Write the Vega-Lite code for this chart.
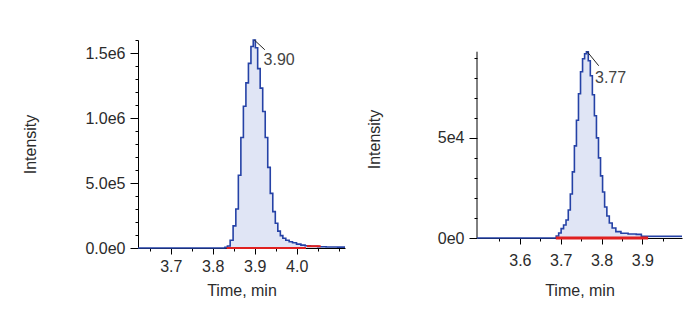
{
  "$schema": "https://vega.github.io/schema/vega-lite/v6.json",
  "padding": {"left": 22, "top": 32, "right": 5, "bottom": 5},
  "spacing": 17,
  "background": "white",
  "config": {
    "view": {"stroke": null},
    "font": "Liberation Sans",
    "axis": {
      "grid": false,
      "domainColor": "#000000",
      "tickColor": "#000000",
      "labelFont": "Liberation Sans",
      "labelFontSize": 16,
      "labelColor": "#2b2b2b",
      "titleFont": "Liberation Sans",
      "titleFontSize": 16,
      "titleFontWeight": "normal",
      "titleColor": "#2b2b2b",
      "labelOverlap": false,
      "labelFlush": false,
      "tickCount": 100
    }
  },
  "datasets": {
    "left": [
      {"t": 3.622, "v": 0}, {"t": 3.700, "v": 0}, {"t": 3.800, "v": 0}, {"t": 3.826, "v": 0},
      {"t": 3.832, "v": 5000}, {"t": 3.838, "v": 15000}, {"t": 3.845, "v": 60000}, {"t": 3.852, "v": 170000},
      {"t": 3.858, "v": 300000}, {"t": 3.864, "v": 560000}, {"t": 3.870, "v": 850000}, {"t": 3.876, "v": 1090000},
      {"t": 3.882, "v": 1270000}, {"t": 3.888, "v": 1420000}, {"t": 3.894, "v": 1550000}, {"t": 3.899, "v": 1600000},
      {"t": 3.904, "v": 1540000}, {"t": 3.910, "v": 1380000}, {"t": 3.916, "v": 1230000}, {"t": 3.922, "v": 1050000},
      {"t": 3.928, "v": 850000}, {"t": 3.934, "v": 620000}, {"t": 3.940, "v": 420000}, {"t": 3.946, "v": 280000},
      {"t": 3.952, "v": 190000}, {"t": 3.958, "v": 130000}, {"t": 3.964, "v": 95000}, {"t": 3.970, "v": 75000},
      {"t": 3.978, "v": 60000}, {"t": 3.986, "v": 48000}, {"t": 3.994, "v": 40000}, {"t": 4.005, "v": 30000},
      {"t": 4.015, "v": 22000}, {"t": 4.025, "v": 17000}, {"t": 4.040, "v": 13000}, {"t": 4.060, "v": 10000},
      {"t": 4.080, "v": 8000}, {"t": 4.115, "v": 7000}
    ],
    "right": [
      {"t": 3.495, "v": 0}, {"t": 3.600, "v": 0}, {"t": 3.686, "v": 0}, {"t": 3.692, "v": 1000},
      {"t": 3.698, "v": 2500}, {"t": 3.704, "v": 4700}, {"t": 3.710, "v": 6500}, {"t": 3.716, "v": 9000},
      {"t": 3.721, "v": 14000}, {"t": 3.726, "v": 22000}, {"t": 3.731, "v": 33000}, {"t": 3.736, "v": 46000},
      {"t": 3.741, "v": 58800}, {"t": 3.746, "v": 72000}, {"t": 3.751, "v": 83000}, {"t": 3.756, "v": 89500},
      {"t": 3.761, "v": 92000}, {"t": 3.765, "v": 93000}, {"t": 3.770, "v": 88500}, {"t": 3.775, "v": 81000},
      {"t": 3.780, "v": 71500}, {"t": 3.785, "v": 61000}, {"t": 3.790, "v": 50000}, {"t": 3.795, "v": 40000},
      {"t": 3.800, "v": 31000}, {"t": 3.805, "v": 23000}, {"t": 3.810, "v": 15500}, {"t": 3.816, "v": 11000},
      {"t": 3.822, "v": 7500}, {"t": 3.830, "v": 5000}, {"t": 3.840, "v": 3200}, {"t": 3.855, "v": 2400},
      {"t": 3.875, "v": 2000}, {"t": 3.895, "v": 1800}, {"t": 3.900, "v": 900}, {"t": 3.997, "v": 850}
    ],
    "leftBase": [
      {"t": 3.833, "t2": 4.022, "v": 0, "v2": 0},
      {"t": 4.024, "t2": 4.057, "v": 14000, "v2": 14000}
    ],
    "rightBase": [
      {"t": 3.688, "t2": 3.914, "v": 0, "v2": 0}
    ],
    "rightAxisLine": [
      {"t": 3.495, "v": 0, "v2": 93000}
    ],
    "leftPeak": [
      {"t": 3.899, "v": 1600000, "t2": 3.924, "v2": 1525000, "lt": 3.921, "lv": 1450000, "label": "3.90"}
    ],
    "rightPeak": [
      {"t": 3.765, "v": 93000, "t2": 3.793, "v2": 86000, "lt": 3.784, "lv": 80000, "label": "3.77"}
    ]
  },
  "hconcat": [
    {
      "width": 207,
      "height": 208,
      "layer": [
        {
          "data": {"name": "left"},
          "mark": {"type": "area", "interpolate": "step", "fill": "#e0e5f5", "stroke": null},
          "encoding": {
            "x": {
              "field": "t", "type": "quantitative",
              "scale": {"domain": [3.622, 4.115], "nice": false, "zero": false},
              "axis": {
                "title": "Time, min",
                "values": [3.65, 3.7, 3.75, 3.8, 3.85, 3.9, 3.95, 4.0, 4.05, 4.1],
                "tickCount": 100,
                "labelExpr": "abs(datum.value*10 - round(datum.value*10)) < 0.001 && datum.value < 4.05 ? format(datum.value, '.1f') : ''",
                "tickSize": {"condition": {"test": "abs(datum.value*10 - round(datum.value*10)) < 0.001 && datum.value < 4.05", "value": 6}, "value": 3},
                "labelOverlap": false,
                "labelFlush": false,
                "labelPadding": 4,
                "titlePadding": 8
              }
            },
            "y": {
              "field": "v", "type": "quantitative",
              "scale": {"domain": [0, 1600000], "nice": false},
              "axis": {
                "title": "Intensity",
                "values": [0, 100000, 200000, 300000, 400000, 500000, 600000, 700000, 800000, 900000, 1000000, 1100000, 1200000, 1300000, 1400000, 1500000, 1600000],
                "tickCount": 100,
                "labelExpr": "datum.value == 0 ? '0.0e0' : datum.value == 500000 ? '5.0e5' : datum.value == 1000000 ? '1.0e6' : datum.value == 1500000 ? '1.5e6' : ''",
                "tickSize": {"condition": {"test": "datum.value % 500000 == 0", "value": 8}, "value": 3},
                "labelOverlap": false,
                "labelFlush": false,
                "labelPadding": 5,
                "titlePadding": 46
              }
            }
          }
        },
        {
          "data": {"name": "left"},
          "mark": {"type": "line", "interpolate": "step", "stroke": "#2542a6", "strokeWidth": 1.6},
          "encoding": {
            "x": {"field": "t", "type": "quantitative"},
            "y": {"field": "v", "type": "quantitative"}
          }
        },
        {
          "data": {"name": "leftBase"},
          "mark": {"type": "rule", "stroke": "#e02020", "strokeWidth": 2},
          "encoding": {
            "x": {"field": "t", "type": "quantitative"},
            "x2": {"field": "t2"},
            "y": {"field": "v", "type": "quantitative"},
            "y2": {"field": "v2"}
          }
        },
        {
          "data": {"name": "leftPeak"},
          "mark": {"type": "rule", "stroke": "#222222", "strokeWidth": 1},
          "encoding": {
            "x": {"field": "t", "type": "quantitative"},
            "x2": {"field": "t2"},
            "y": {"field": "v", "type": "quantitative"},
            "y2": {"field": "v2"}
          }
        },
        {
          "data": {"name": "leftPeak"},
          "mark": {"type": "text", "align": "left", "baseline": "middle", "fontSize": 16, "font": "Liberation Sans", "color": "#444444"},
          "encoding": {
            "x": {"field": "lt", "type": "quantitative"},
            "y": {"field": "lv", "type": "quantitative"},
            "text": {"field": "label"}
          }
        }
      ]
    },
    {
      "width": 205,
      "height": 198,
      "layer": [
        {
          "data": {"name": "right"},
          "mark": {"type": "area", "interpolate": "step", "fill": "#e0e5f5", "stroke": null},
          "encoding": {
            "x": {
              "field": "t", "type": "quantitative",
              "scale": {"domain": [3.495, 3.997], "nice": false, "zero": false},
              "axis": {
                "title": "Time, min",
                "values": [3.55, 3.6, 3.65, 3.7, 3.75, 3.8, 3.85, 3.9, 3.95],
                "tickCount": 100,
                "labelExpr": "abs(datum.value*10 - round(datum.value*10)) < 0.001 ? format(datum.value, '.1f') : ''",
                "tickSize": {"condition": {"test": "abs(datum.value*10 - round(datum.value*10)) < 0.001", "value": 6}, "value": 3},
                "labelOverlap": false,
                "labelFlush": false,
                "labelPadding": 8,
                "titlePadding": 14
              }
            },
            "y": {
              "field": "v", "type": "quantitative",
              "scale": {"domain": [0, 98850], "nice": false},
              "axis": {
                "title": "Intensity",
                "domain": false,
                "values": [0, 10000, 20000, 30000, 40000, 50000, 60000, 70000, 80000, 90000],
                "tickCount": 100,
                "labelExpr": "datum.value == 0 ? '0e0' : datum.value == 50000 ? '5e4' : ''",
                "tickSize": {"condition": {"test": "datum.value % 50000 == 0", "value": 8}, "value": 3},
                "labelOverlap": false,
                "labelFlush": false,
                "labelPadding": 5,
                "titlePadding": 55
              }
            }
          }
        },
        {
          "data": {"name": "rightAxisLine"},
          "mark": {"type": "rule", "stroke": "#000000", "strokeWidth": 1},
          "encoding": {
            "x": {"field": "t", "type": "quantitative"},
            "y": {"field": "v", "type": "quantitative"},
            "y2": {"field": "v2"}
          }
        },
        {
          "data": {"name": "right"},
          "mark": {"type": "line", "interpolate": "step", "stroke": "#2542a6", "strokeWidth": 1.6},
          "encoding": {
            "x": {"field": "t", "type": "quantitative"},
            "y": {"field": "v", "type": "quantitative"}
          }
        },
        {
          "data": {"name": "rightBase"},
          "mark": {"type": "rule", "stroke": "#e02020", "strokeWidth": 3},
          "encoding": {
            "x": {"field": "t", "type": "quantitative"},
            "x2": {"field": "t2"},
            "y": {"field": "v", "type": "quantitative"},
            "y2": {"field": "v2"}
          }
        },
        {
          "data": {"name": "rightPeak"},
          "mark": {"type": "rule", "stroke": "#222222", "strokeWidth": 1},
          "encoding": {
            "x": {"field": "t", "type": "quantitative"},
            "x2": {"field": "t2"},
            "y": {"field": "v", "type": "quantitative"},
            "y2": {"field": "v2"}
          }
        },
        {
          "data": {"name": "rightPeak"},
          "mark": {"type": "text", "align": "left", "baseline": "middle", "fontSize": 16, "font": "Liberation Sans", "color": "#444444"},
          "encoding": {
            "x": {"field": "lt", "type": "quantitative"},
            "y": {"field": "lv", "type": "quantitative"},
            "text": {"field": "label"}
          }
        }
      ]
    }
  ]
}
